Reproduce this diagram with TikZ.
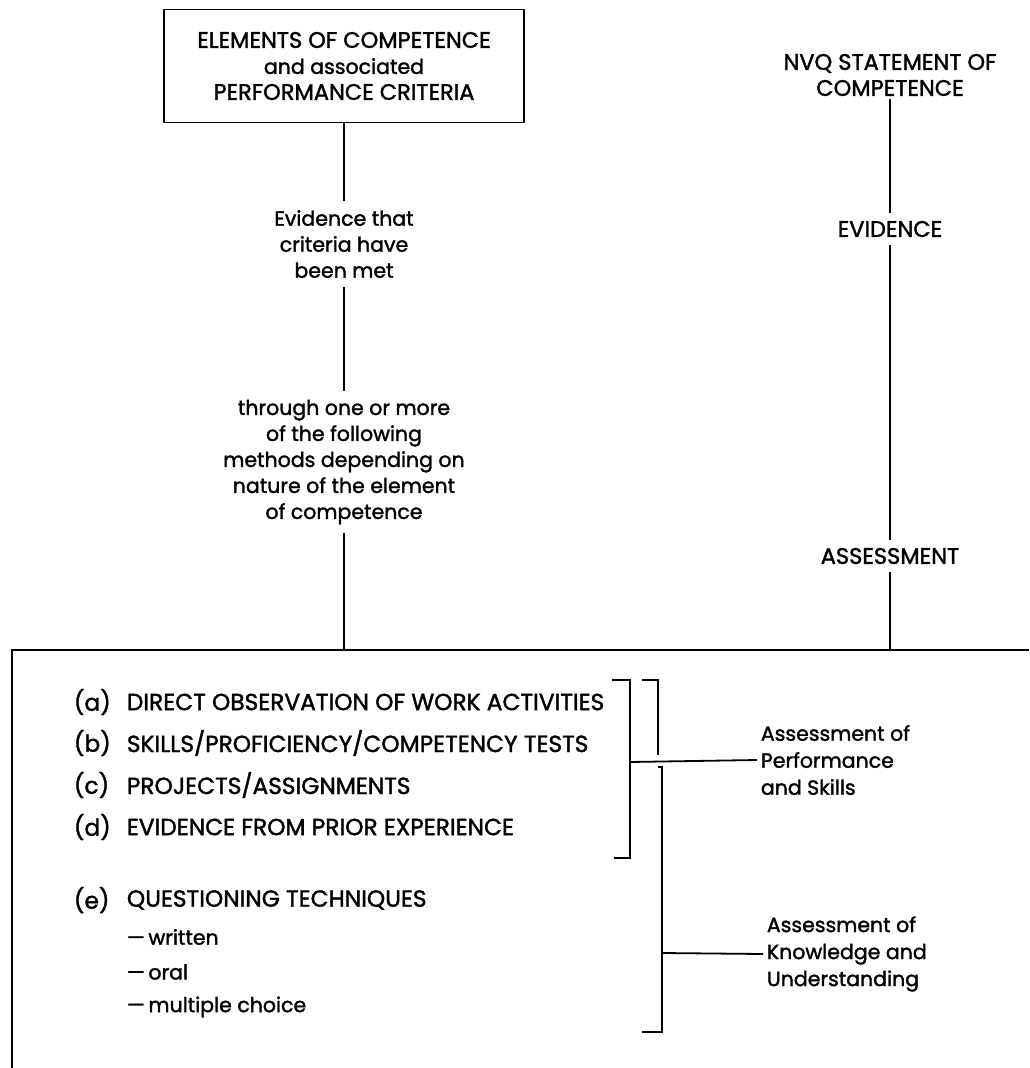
\documentclass[tikz,border=0pt]{standalone}
\usepackage{fontspec}
\setmainfont{Poppins}[FakeBold=1.6]
\newcommand{\lowtext}{\fontsize{20.5}{26}\selectfont}

\begin{document}
\begin{tikzpicture}[x=1pt,y=-1pt,line width=1.8pt,
    txt/.style={align=center,inner sep=8pt,font=\fontsize{20.5}{26}\selectfont},
    caps/.style={align=center,inner sep=6pt,font=\fontsize{22.5}{26}\selectfont},
    item/.style={anchor=west,inner sep=0pt,font=\fontsize{23.3}{24}\selectfont},
    side/.style={anchor=west,align=left,inner sep=3pt,font=\fontsize{20.5}{27}\selectfont}]
    \useasboundingbox (0,0) rectangle (1029,1068);

    \node (el) at (344,66) [draw,caps,inner sep=4pt,minimum width=360pt,minimum height=113pt] {ELEMENTS OF COMPETENCE\\{\lowtext and associated}\\PERFORMANCE CRITERIA};
    \node (ev) at (344,244) [txt] {Evidence that\\criteria have\\been met};
    \node (me) at (344,462) [txt] {through one or more\\of the following\\methods depending on\\nature of the element\\of competence};
    \coordinate (mtop) at (344,650);

    \node (nvq) at (890,75) [caps,inner sep=2pt] {NVQ STATEMENT OF\\COMPETENCE};
    \node (evi) at (890,229) [caps,inner sep=7pt] {EVIDENCE};
    \node (ass) at (890,556) [caps,inner sep=7pt] {ASSESSMENT};
    \coordinate (rtop) at (890,650);

    \draw (el) -- (ev) (ev) -- (me) (me) -- (mtop);
    \draw (nvq) -- (evi) (evi) -- (ass) (ass) -- (rtop);

    % lower frame
    \coordinate (fr) at (1029,650);
    \coordinate (fl) at (12,650);
    \coordinate (fb) at (12,1068);
    \draw (fr) -- (fl) -- (fb);

    \node (la) at (73,702) [item] {(a)};
    \node [item] at (126,702) {DIRECT OBSERVATION OF WORK ACTIVITIES};
    \node (lb) at (73,743) [item] {(b)};
    \node [item] at (126,743) {SKILLS/PROFICIENCY/COMPETENCY TESTS};
    \node (lc) at (73,785) [item] {(c)};
    \node [item] at (126,785) {PROJECTS/ASSIGNMENTS};
    \node (ld) at (73,827) [item] {(d)};
    \node [item] at (126,827) {EVIDENCE FROM PRIOR EXPERIENCE};
    \node (le) at (73,900) [item] {(e)};
    \node [item] at (126,900) {QUESTIONING TECHNIQUES};
    \node [item,font=\lowtext] at (126,937) {---\,written};
    \node [item,font=\lowtext] at (126,972) {---\,oral};
    \node [item,font=\lowtext] at (126,1007) {---\,multiple choice};

    % brackets
    \draw (612,680) -- (630,680) -- (630,858) -- (614,858);
    \draw (642,680) -- (658,680) -- (658,755);
    \draw (658,767) -- (662,767) -- (662,1032) -- (642,1032);
    \coordinate (pj) at (630,762);
    \coordinate (kj) at (662,953);

    \node (perf) at (757,760) [side] {Assessment of\\Performance\\and Skills};
    \node (know) at (763,954) [side] {Assessment of\\Knowledge and\\Understanding};
    \draw (pj) -- (perf.west);
    \draw (kj) -- (know.west);
\end{tikzpicture}
\end{document}
